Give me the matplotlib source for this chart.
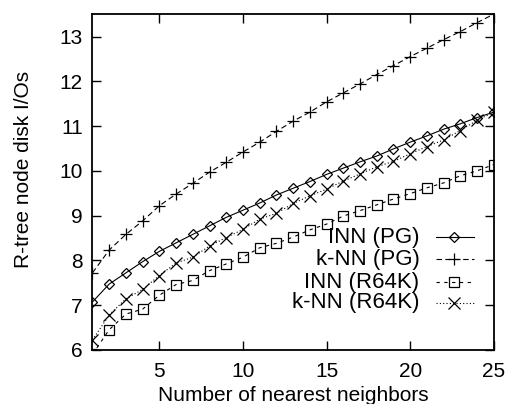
import numpy as np
import matplotlib
matplotlib.use("Agg")
from matplotlib import pyplot as plt

plt.rcParams['font.family'] = ['Liberation Sans', 'DejaVu Sans']

k = np.arange(1, 26)

inn_pg = [7.07, 7.47, 7.72, 7.97, 8.20, 8.39, 8.58, 8.77, 8.96, 9.12,
          9.28, 9.46, 9.61, 9.76, 9.92, 10.06, 10.20, 10.33, 10.49, 10.64,
          10.78, 10.93, 11.05, 11.19, 11.31]
knn_pg = [7.72, 8.23, 8.58, 8.88, 9.22, 9.48, 9.72, 9.97, 10.19, 10.42,
          10.64, 10.88, 11.11, 11.31, 11.54, 11.74, 11.94, 12.15, 12.35, 12.55,
          12.74, 12.93, 13.11, 13.31, 13.50]
inn_r64k = [5.90, 6.45, 6.80, 6.91, 7.22, 7.46, 7.55, 7.77, 7.92, 8.07,
            8.28, 8.38, 8.52, 8.68, 8.81, 8.99, 9.11, 9.24, 9.37, 9.49,
            9.62, 9.73, 9.89, 10.00, 10.14]
knn_r64k = [6.22, 6.78, 7.14, 7.35, 7.66, 7.94, 8.07, 8.32, 8.51, 8.69,
            8.92, 9.05, 9.27, 9.44, 9.59, 9.77, 9.93, 10.09, 10.21, 10.38,
            10.54, 10.69, 10.90, 11.13, 11.31]

series = [
    ("INN (PG)", inn_pg, dict(linestyle='-', marker='D', markersize=5.5)),
    ("k-NN (PG)", knn_pg, dict(linestyle=(0, (5, 3)), marker='+', markersize=8)),
    ("INN (R64K)", inn_r64k, dict(linestyle=(0, (3, 4)), marker='s', markersize=6.5)),
    ("k-NN (R64K)", knn_r64k, dict(linestyle=(0, (1, 2)), marker='x', markersize=8)),
]

fig = plt.figure(figsize=(5.08, 4.04), dpi=100)
ax = fig.add_axes([0.182, 0.134, 0.79, 0.831])

for name, vals, st in series:
    ax.plot(k, vals, color='black', linewidth=0.8, markerfacecolor='none',
            markeredgewidth=0.9, **st)

# key: right-justified text followed by a line sample
ys = [0.336, 0.270, 0.201, 0.141]
for (name, vals, st), yk in zip(series, ys):
    ax.text(0.815, yk, name, transform=ax.transAxes, ha='right', va='center',
            fontsize=16)
    ax.plot([0.855, 0.95], [yk, yk], transform=ax.transAxes, color='black',
            linewidth=0.8, linestyle=st['linestyle'])
    ax.plot([0.902], [yk], transform=ax.transAxes, color='black',
            marker=st['marker'], markersize=st['markersize'],
            markerfacecolor='none', markeredgewidth=0.9)

ax.set_xlim(1, 25)
ax.set_ylim(6, 13.5)
ax.set_xticks([5, 10, 15, 20, 25])
ax.set_yticks(range(6, 14))
ax.tick_params(direction='in', length=6.5, width=1, labelsize=15,
               top=True, right=True)
ax.tick_params(axis='x', pad=9)
ax.tick_params(axis='y', pad=7)
for s in ax.spines.values():
    s.set_linewidth(1.3)

ax.set_xlabel("Number of nearest neighbors", fontsize=15)
ax.xaxis.label.set_va('baseline')
ax.xaxis.set_label_coords(0.5, -0.152)
ax.set_ylabel("R-tree node disk I/Os", fontsize=15)
ax.yaxis.set_label_coords(-0.148, 0.536)

fig.savefig("out.png", dpi=100)
